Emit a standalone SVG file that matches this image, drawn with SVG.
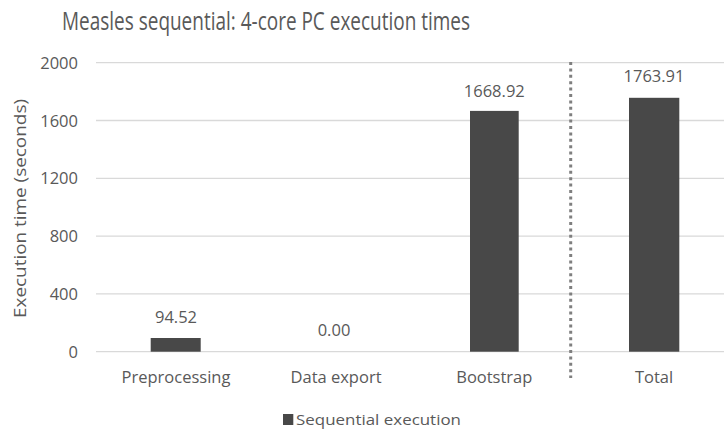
<svg xmlns="http://www.w3.org/2000/svg" width="724" height="429" viewBox="0 0 724 429">
  <style>
    text { font-family: "Open Sans", "Noto Sans", "DejaVu Sans", sans-serif; fill: #595959; }
    .title { font-size: 26px; }
    .tick { font-size: 16.5px; text-anchor: end; }
    .cat { font-size: 16.5px; text-anchor: middle; }
    .val { font-size: 16.5px; text-anchor: middle; }
    .axis-title { font-size: 16.5px; text-anchor: middle; }
    .legend { font-size: 15px; }
    .grid { stroke: #d9d9d9; stroke-width: 1.3; fill: none; }
    .bar { fill: #484848; }
    .divider { stroke: #7f7f7f; stroke-width: 3; stroke-dasharray: 3 3.4; fill: none; }
  </style>

  <rect width="724" height="429" fill="#ffffff"/>

  <!-- chart title -->
  <text class="title" x="266" y="30" text-anchor="middle" textLength="408" lengthAdjust="spacingAndGlyphs">Measles sequential: 4-core PC execution times</text>

  <!-- horizontal gridlines, 0 to 2000 in steps of 400 -->
  <g id="gridlines">
    <line class="grid" x1="96" y1="62.7" x2="724" y2="62.7"/>
    <line class="grid" x1="96" y1="120.5" x2="724" y2="120.5"/>
    <line class="grid" x1="96" y1="178.3" x2="724" y2="178.3"/>
    <line class="grid" x1="96" y1="236.1" x2="724" y2="236.1"/>
    <line class="grid" x1="96" y1="293.9" x2="724" y2="293.9"/>
    <line class="grid" x1="96" y1="351.7" x2="724" y2="351.7"/>
  </g>

  <!-- value axis -->
  <g id="y-axis">
    <text class="tick" x="78" y="68.5">2000</text>
    <text class="tick" x="78" y="126.5">1600</text>
    <text class="tick" x="78" y="184">1200</text>
    <text class="tick" x="78" y="242">800</text>
    <text class="tick" x="78" y="300">400</text>
    <text class="tick" x="78" y="357.5">0</text>
    <text class="axis-title" transform="translate(26 208.5) rotate(-90)" textLength="219" lengthAdjust="spacingAndGlyphs">Execution time (seconds)</text>
  </g>

  <!-- bars with their data labels -->
  <g id="bar-preprocessing">
    <rect class="bar" x="150.7" y="338" width="50" height="13.7"/>
    <text class="val" x="176" y="322.5">94.52</text>
    <text class="cat" x="176" y="382.5">Preprocessing</text>
  </g>
  <g id="bar-data-export">
    <text class="val" x="334" y="335.5">0.00</text>
    <text class="cat" x="336" y="382.5">Data export</text>
  </g>
  <g id="bar-bootstrap">
    <rect class="bar" x="470" y="110.9" width="48.7" height="240.8"/>
    <text class="val" x="494.3" y="96.5">1668.92</text>
    <text class="cat" x="494.3" y="382.5">Bootstrap</text>
  </g>

  <!-- separator between the stages and the total -->
  <g id="connectors">
    <line class="divider" x1="570.7" y1="62" x2="570.7" y2="378"/>
  </g>

  <g id="bar-total">
    <rect class="bar" x="629" y="97.8" width="50.3" height="253.9"/>
    <text class="val" x="654" y="81.5">1763.91</text>
    <text class="cat" x="654" y="382.5">Total</text>
  </g>

  <!-- legend -->
  <g id="legend">
    <rect class="bar" x="283" y="414" width="10.3" height="11"/>
    <text class="legend" x="296" y="424.5" textLength="165" lengthAdjust="spacingAndGlyphs">Sequential execution</text>
  </g>
</svg>
